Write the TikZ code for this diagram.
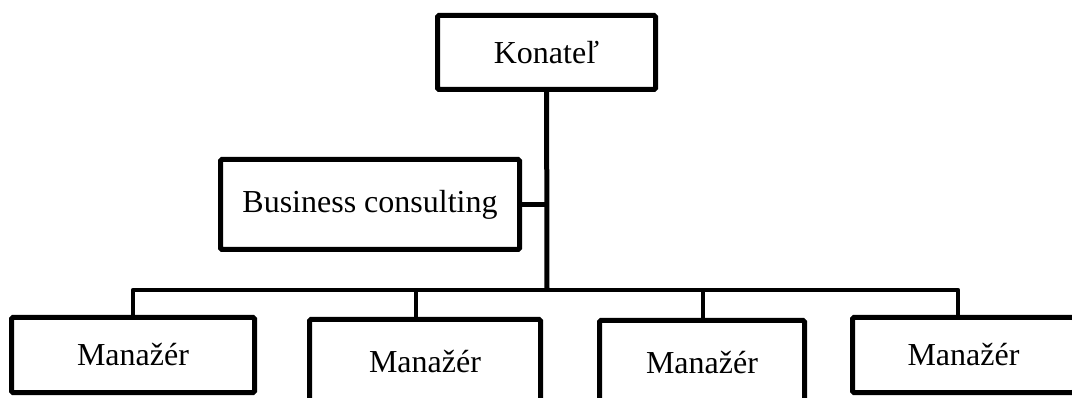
\documentclass[tikz,border=0pt]{standalone}
\usepackage{fontspec}
\setmainfont{Liberation Serif}
\usepackage{tikz}

\begin{document}
\begin{tikzpicture}[x=1pt, y=-1pt, every node/.style={font=\fontsize{32}{38}\selectfont},
	box/.style={draw, line width=5pt, rounded corners=1.5pt, inner sep=0pt},
	link/.style={line width=4.5pt, line join=round}]
	\useasboundingbox (0,0) rectangle (1072,398);
	% top and side box
	\node[box, minimum width=218pt, minimum height=74pt] (kon) at (546.5,52.5) {Konateľ};
	\node[box, minimum width=299pt, minimum height=90pt] (bc) at (370,204.5) {Business consulting};
	% managers (bottoms run off the page)
	\node[box, minimum width=243pt, minimum height=75pt] (m1) at (133,355) {Manažér};
	\node[box, minimum width=231pt, minimum height=85pt] (m2) at (425,362) {Manažér};
	\node[box, minimum width=205pt, minimum height=85pt] (m3) at (702,363) {Manažér};
	\node[box, minimum width=222pt, minimum height=75pt] (m4) at (963.5,355) {Manažér};
	\coordinate (j) at (547,290);
	\draw[link, line width=5pt] (kon) -- (j);
	\draw[link, line width=5pt] (bc) -- (bc -| j);
	\foreach \m/\dx in {m1/0pt, m2/-9pt, m3/1pt, m4/-5.5pt} {\draw[link] (j) -| ([xshift=\dx]\m.north);}
\end{tikzpicture}
\end{document}
